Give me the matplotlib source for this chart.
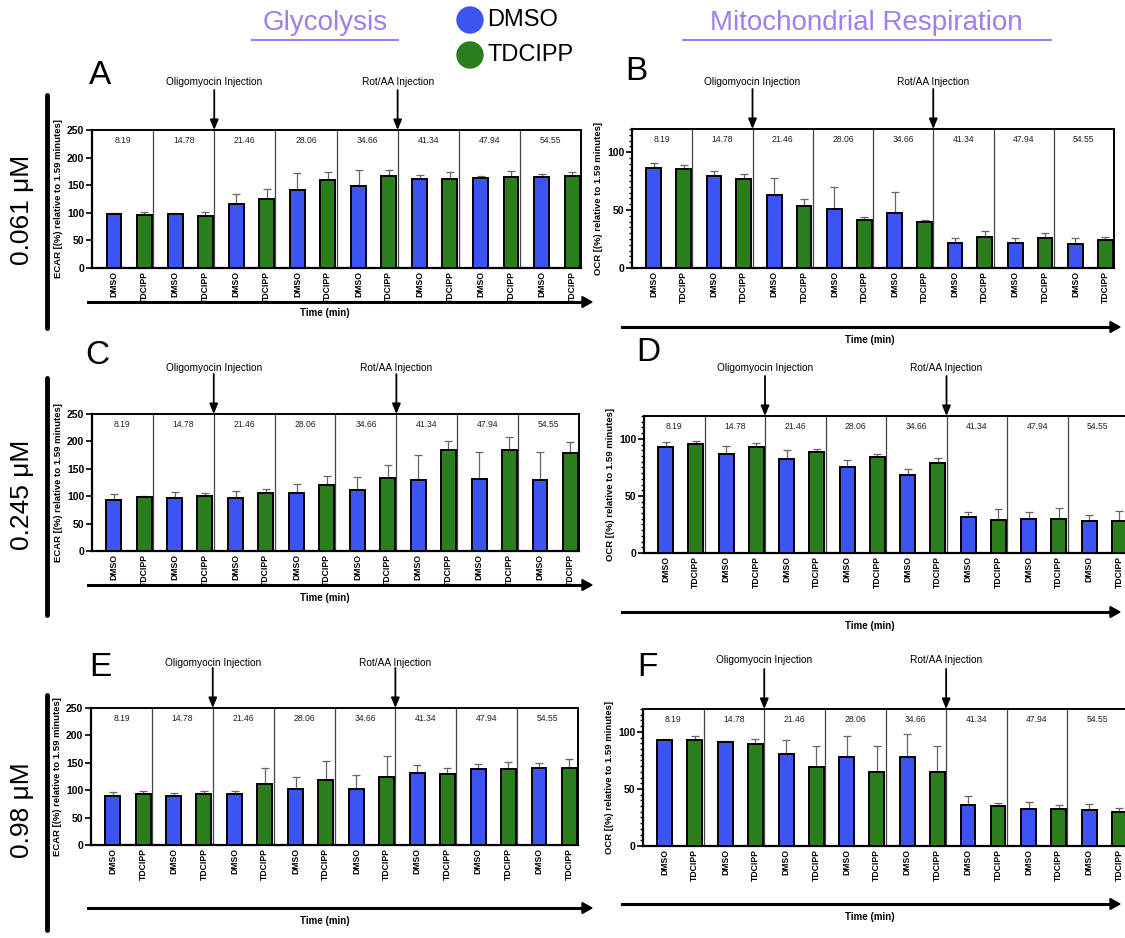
import matplotlib
matplotlib.use("Agg")
import matplotlib.pyplot as plt
from matplotlib.lines import Line2D
from matplotlib.patches import Ellipse, FancyArrow
import numpy as np

plt.rcParams['font.family'] = ['Liberation Sans', 'DejaVu Sans']

W, H = 1125, 938

times = ['8.19', '14.78', '21.46', '28.06', '34.66', '41.34', '47.94', '54.55']
groups = ['DMSO', 'TDCIPP']

# Panel A: ECAR 0.061 uM
A_dmso = [98.2, 97.6, 116.5, 141.5, 148.8, 161.6, 162.2, 164.6]
A_dmso_err = [1.5, 1.2, 18.3, 31, 29, 6, 5, 5]
A_tdc = [96.3, 94.5, 124.4, 159.1, 165.9, 161.6, 164.6, 166.5]
A_tdc_err = [6, 6.7, 19.5, 14, 11, 11.6, 10.4, 7.3]
# Panel B: OCR 0.061 uM
B_dmso = [86.6, 79.3, 62.7, 51.0, 47.2, 21.9, 21.3, 20.7]
B_dmso_err = [3.8, 4.4, 14.6, 19, 18.1, 4, 4.9, 5.5]
B_tdc = [85.4, 76.7, 53.9, 41.4, 39.4, 27.1, 26.2, 24.5]
B_tdc_err = [3.5, 4.6, 5.6, 2.6, 2, 5, 4.4, 2.6]
# Panel C: ECAR 0.245 uM
C_dmso = [92.8, 95.9, 96.5, 105, 111.7, 129.9, 131.7, 129.9]
C_dmso_err = [11, 10.9, 12.5, 17.6, 23, 44.9, 48.5, 50.9]
C_tdc = [97.7, 100.1, 105, 120.1, 133.5, 185, 184.5, 179.6]
C_tdc_err = [2.3, 6.1, 7.9, 16.4, 24.3, 15.8, 23, 19.4]
# Panel D: OCR 0.245 uM
D_dmso = [93, 86.6, 81.9, 74.9, 68.5, 31.2, 30, 28.3]
D_dmso_err = [4.4, 7.3, 8.5, 6.4, 5, 5, 5.6, 5.2]
D_tdc = [95.3, 93, 88.9, 83.7, 78.7, 28.9, 30, 28.3]
D_tdc_err = [2.7, 3.2, 2.4, 2.9, 4.1, 9.3, 9.1, 8.1]
# Panel E: ECAR 0.98 uM
E_dmso = [90, 90, 93.7, 102.2, 102.8, 130.8, 138.7, 140.5]
E_dmso_err = [6.1, 5.5, 5.4, 22.5, 24.3, 15.2, 9.1, 9.7]
E_tdc = [93.7, 92.5, 111.3, 119.2, 124.1, 129.6, 138, 140.5]
E_tdc_err = [5.4, 6, 28.6, 34.7, 37.7, 10.3, 14, 15.8]
# Panel F: OCR 0.98 uM
F_dmso = [93, 90.7, 80.5, 78.2, 77.9, 35.8, 32, 31.4]
F_dmso_err = [0.9, 1.2, 12.5, 18, 20.6, 8.1, 6.7, 5.8]
F_tdc = [93, 89, 69.5, 64.8, 64.8, 35.2, 32.6, 29.9]
F_tdc_err = [3.5, 4.6, 18, 22.7, 22.7, 2.6, 2.9, 3.2]

BLUE = '#3C55F2'
GREEN = '#2A7E1C'
PURPLE = '#A07FEB'

fig = plt.figure(figsize=(W / 100, H / 100), dpi=100)


def fx(x):
    return x / W


def fy(y):
    return 1 - y / H


def panel(box, dm, dm_e, td, td_e, ylim, yticks, ylabel, minor, letter, letter_xy,
          inj_y, tarrow, cut_right=False):
    x0, x1, y0, y1 = box
    ax = fig.add_axes([fx(x0), fy(y1), fx(x1 - x0), (y1 - y0) / H])
    n = len(times)
    g = np.arange(n)
    xd = g + 0.36
    xt = g + 0.855
    bw = 0.245
    ax.bar(xd, dm, bw, color=BLUE, edgecolor='black', linewidth=1.4, zorder=3)
    ax.bar(xt, td, bw, color=GREEN, edgecolor='black', linewidth=1.4, zorder=3)
    ax.errorbar(xd, dm, yerr=[np.zeros(n), dm_e], fmt='none', ecolor='#666666',
                elinewidth=0.9, capsize=3, capthick=0.9, zorder=2)
    ax.errorbar(xt, td, yerr=[np.zeros(n), td_e], fmt='none', ecolor='#666666',
                elinewidth=0.9, capsize=3, capthick=0.9, zorder=2)
    for k in range(1, n):
        ax.axvline(k, color='#444444', lw=0.9, zorder=1)
    for k, t in enumerate(times):
        ax.text(k + 0.5, ylim[1] * 0.925, t, ha='center', va='center', fontsize=6.2,
                color='#222222')
    ax.set_xlim(0, n)
    ax.set_ylim(*ylim)
    ax.set_yticks(yticks)
    ax.set_yticklabels([str(v) for v in yticks], fontweight='bold', fontsize=7.5)
    ax.tick_params(axis='y', direction='out', length=4, width=1.2, pad=1.5)
    if minor:
        ax.set_yticks(np.arange(0, ylim[1] + 0.1, 5), minor=True)
        ax.tick_params(axis='y', which='minor', length=2.5, width=1.0)
    ticks = np.ravel(np.column_stack([xd, xt]))
    ax.set_xticks(ticks)
    ax.set_xticklabels(groups * n, rotation=90, fontweight='bold', fontsize=6.2)
    ax.tick_params(axis='x', length=0, pad=2.5)
    for s in ['left', 'bottom']:
        ax.spines[s].set_linewidth(1.6)
    for s in ['top', 'right']:
        ax.spines[s].set_linewidth(1.4)
    if cut_right:
        ax.spines['right'].set_visible(False)
    ax.set_ylabel(ylabel, fontweight='bold', fontsize=6.8, labelpad=3)
    # injection arrows
    for xg, lab in [(2, 'Oligomyocin Injection'), (5, 'Rot/AA Injection')]:
        ax.annotate('', xy=(xg, 1.0), xycoords=('data', 'axes fraction'),
                    xytext=(xg, 1.0 + 40 / (y1 - y0)),
                    arrowprops=dict(arrowstyle='-|>,head_width=0.25,head_length=0.6',
                                    lw=1.3, color='black', shrinkA=0, shrinkB=0),
                    annotation_clip=False)
        ax.text(xg, 1.0 + (y0 - inj_y) / (y1 - y0), lab, transform=ax.get_xaxis_transform(),
                ha='center', va='center', fontsize=7.3, clip_on=False)
    # panel letter
    fig.text(fx(letter_xy[0]), fy(letter_xy[1]), letter, fontsize=24, ha='center', va='center')
    # time arrow
    ax0, ax1, ay, ly, lx = tarrow
    fig.add_artist(Line2D([fx(ax0), fx(ax1 - 6)], [fy(ay), fy(ay)], color='black', lw=2.2))
    fig.patches.append(FancyArrow(
        fx(ax1 - 10), fy(ay), fx(10), 0, width=0.0, head_width=11 / H, head_length=10 / W,
        length_includes_head=True, color='black', transform=fig.transFigure, figure=fig))
    fig.text(fx(lx), fy(ly), 'Time (min)', fontweight='bold', fontsize=7, ha='center', va='center')
    return ax


ecar_lab = 'ECAR [(%) relative to 1.59 minutes]'
ocr_lab = 'OCR [(%) relative to 1.59 minutes]'
ecar_ticks = [0, 50, 100, 150, 200, 250]
ocr_ticks = [0, 50, 100]

panel((92, 581, 130, 268), A_dmso, A_dmso_err, A_tdc, A_tdc_err, (0, 250), ecar_ticks,
      ecar_lab, False, 'A', (100, 75), 82, (88, 592, 302, 313, 325))
panel((632, 1114, 129, 268), B_dmso, B_dmso_err, B_tdc, B_tdc_err, (0, 120), ocr_ticks,
      ocr_lab, True, 'B', (636, 72), 82, (622, 1120, 327, 340, 870))
panel((92, 579, 414, 551), C_dmso, C_dmso_err, C_tdc, C_tdc_err, (0, 250), ecar_ticks,
      ecar_lab, False, 'C', (97, 355), 368, (88, 592, 585, 598, 325))
panel((644, 1128, 416, 553), D_dmso, D_dmso_err, D_tdc, D_tdc_err, (0, 120), ocr_ticks,
      ocr_lab, True, 'D', (648, 352), 368, (622, 1120, 612, 626, 870), cut_right=True)
panel((91, 578, 708, 845), E_dmso, E_dmso_err, E_tdc, E_tdc_err, (0, 250), ecar_ticks,
      ecar_lab, False, 'E', (100, 668), 663, (88, 592, 908, 921, 325))
panel((643, 1128, 709, 846), F_dmso, F_dmso_err, F_tdc, F_tdc_err, (0, 120), ocr_ticks,
      ocr_lab, True, 'F', (647, 667), 660, (622, 1120, 904, 917, 870), cut_right=True)

# row bars and concentration labels
for (ya, yb, yc, lab) in [(95, 328, 210, '0.061 μM'), (378, 615, 495, '0.245 μM'),
                          (695, 930, 810, '0.98 μM')]:
    fig.add_artist(Line2D([fx(47), fx(47)], [fy(ya), fy(yb)], color='black', lw=3.5,
                          solid_capstyle='round'))
    fig.text(fx(22), fy(yc), lab, rotation=90, fontsize=19, ha='center', va='center')

# titles
for (cx, x0, x1, lab) in [(325, 252, 398, 'Glycolysis'), (866, 683, 1051, 'Mitochondrial Respiration')]:
    fig.text(fx(cx), fy(23), lab, color=PURPLE, fontsize=20, ha='center', va='center')
    fig.add_artist(Line2D([fx(x0), fx(x1)], [fy(40), fy(40)], color=PURPLE, lw=1.5))

# legend
for (yy, col, lab) in [(20, BLUE, 'DMSO'), (55, GREEN, 'TDCIPP')]:
    fig.add_artist(Ellipse((fx(470), fy(yy)), 26 / W, 26 / H, color=col,
                           transform=fig.transFigure))
    fig.text(fx(487), fy(yy), lab, fontsize=17, ha='left', va='center')

fig.savefig('out.png', dpi=100)
